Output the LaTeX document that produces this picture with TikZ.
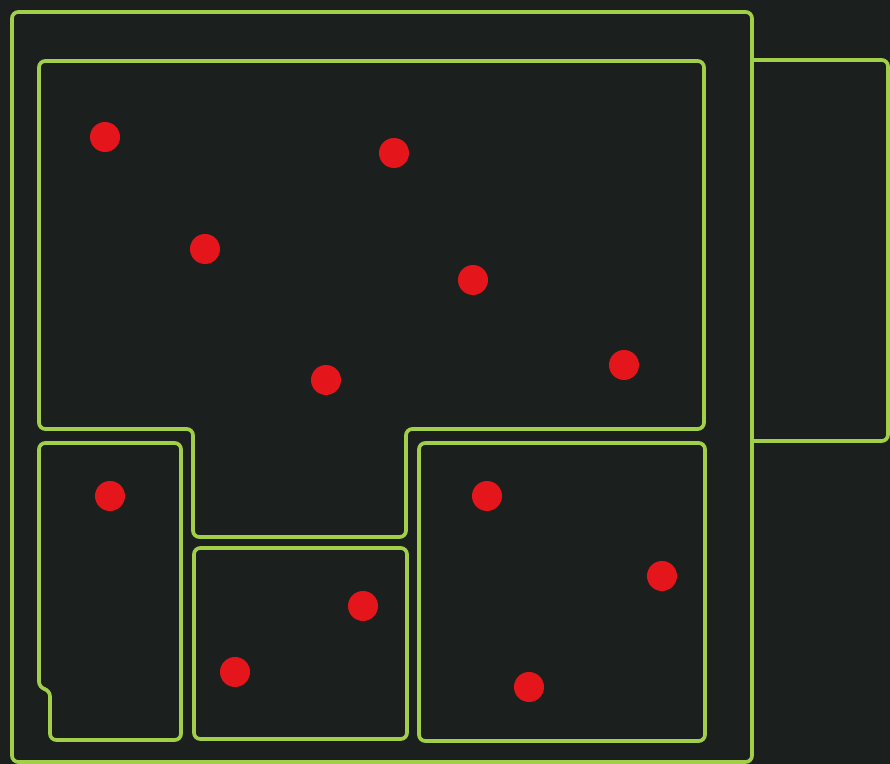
\documentclass[tikz,border=0pt]{standalone}
\usepackage{xcolor}
\usetikzlibrary{positioning}
\definecolor{bgdark}{HTML}{1B1F1E}
\definecolor{wallgreen}{HTML}{A2CF4A}
\definecolor{dotred}{HTML}{E5161B}
\tikzset{
  wall/.style={draw=wallgreen,line width=1.05pt,rounded corners=1.8pt},
  dotmark/.style={fill=dotred}
}

\begin{document}
\begin{tikzpicture}[x=0.01cm,y=-0.01cm]
  \fill[bgdark] (0,0) rectangle (890,764);
  % outer boundary and side room
  \draw[wall] (12,12) -- (752,12) -- (752,762) -- (12,762) -- cycle;
  \draw[wall] (752,60) -- (888,60) -- (888,441) -- (752,441);
  % main room
  \draw[wall] (39,61) -- (704,61) -- (704,429) -- (406,429) -- (406,537)
    -- (193,537) -- (193,429) -- (39,429) -- cycle;
  % lower rooms
  \draw[wall] (39,443) -- (181,443) -- (181,740) -- (50,740) -- (50,690)
    -- (39,688) -- cycle;
  \draw[wall] (194,548) rectangle (407,739);
  \draw[wall] (419,443) rectangle (705,741);
  % points
  \foreach \px/\py in {105/137,394/153,205/249,473/280,326/380,624/365,
      110/496,487/496,662/576,363/606,235/672,529/687}
    \fill[dotmark] (\px,\py) circle (0.15cm);
\end{tikzpicture}
\end{document}
